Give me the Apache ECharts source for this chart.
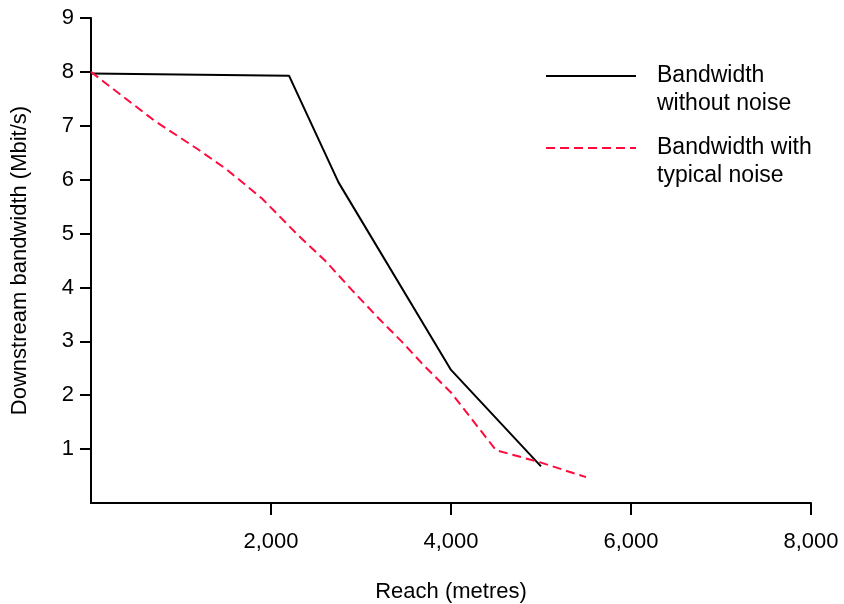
<!DOCTYPE html>
<html>
<head>
<meta charset="utf-8">
<script src="https://cdn.jsdelivr.net/npm/echarts@6/dist/echarts.min.js"></script>
<style>
  html, body { margin: 0; padding: 0; background: #fff; }
  #chart { width: 844px; height: 604px; }
</style>
</head>
<body>
<div id="chart"></div>
<script>
// data
var reachClean = [0, 2200, 2750, 4000, 5000]
var bwClean = [7.97, 7.93, 5.95, 2.47, 0.68]

var reachNoise = [0, 350, 700, 1200, 1500, 1900, 2300, 2600, 2900, 3200, 3450, 3700, 4000, 4500, 5000, 5500]
var bwNoise = [8.0, 7.55, 7.1, 6.55, 6.2, 5.65, 4.97, 4.5, 3.95, 3.42, 3.0, 2.55, 2.05, 0.98, 0.75, 0.48]

var nameClean = 'Bandwidth\nwithout noise'
var nameNoise = 'Bandwidth with\ntypical noise'

function pairs(xs, ys){
    var out = []
    for(let i=0;i<xs.length;i++){
        out.push([xs[i], ys[i]])
    }
    return out
}

var font = 'Liberation Sans, Arial, sans-serif'

// blank first line so the icon lines up with the first text line
function legendFmt(name){
    return ' \n' + name
}

var legendText = {
    fontFamily: font,
    fontSize: 23,
    color: '#000',
    lineHeight: 28,
    padding: [0, 0, 0, 16]
}

option = {
    animation: false,
    backgroundColor: '#fff',
    grid: { left: 91, right: 33, top: 18, bottom: 101, outerBoundsMode: 'none' },
    legend: [
        {
            data: [nameClean],
            orient: 'vertical',
            left: 540,
            top: 29,
            itemWidth: 90,
            itemHeight: 12,
            formatter: legendFmt,
            itemStyle: { opacity: 0 },
            textStyle: legendText
        },
        {
            data: [nameNoise],
            orient: 'vertical',
            left: 540,
            top: 101,
            itemWidth: 90,
            itemHeight: 12,
            formatter: legendFmt,
            itemStyle: { opacity: 0 },
            textStyle: legendText
        }
    ],
    xAxis: {
        type: 'value',
        min: 0,
        max: 8000,
        interval: 2000,
        name: 'Reach (metres)',
        nameLocation: 'middle',
        nameGap: 78,
        nameTextStyle: { fontFamily: font, fontSize: 22, color: '#000' },
        axisLine: { lineStyle: { color: '#000', width: 2 } },
        axisTick: { show: true, length: 12, lineStyle: { color: '#000', width: 2 } },
        axisLabel: {
            showMinLabel: false,
            margin: 28,
            fontFamily: font,
            fontSize: 22,
            color: '#000',
            formatter: function(v){ return v.toLocaleString('en-US') }
        },
        splitLine: { show: false }
    },
    yAxis: {
        type: 'value',
        min: 0,
        max: 9,
        interval: 1,
        name: 'Downstream bandwidth (Mbit/s)',
        nameLocation: 'middle',
        nameGap: 60,
        nameTextStyle: { fontFamily: font, fontSize: 22, color: '#000' },
        axisLine: { show: true, lineStyle: { color: '#000', width: 2 } },
        axisTick: { show: true, length: 11, lineStyle: { color: '#000', width: 2 } },
        axisLabel: {
            showMinLabel: false,
            margin: 17,
            fontFamily: font,
            fontSize: 22,
            color: '#000'
        },
        splitLine: { show: false }
    },
    series: [
        {
            name: nameClean,
            type: 'line',
            data: pairs(reachClean, bwClean),
            symbol: 'none',
            lineStyle: { color: '#000', width: 2 },
            itemStyle: { color: '#000' }
        },
        {
            name: nameNoise,
            type: 'line',
            data: pairs(reachNoise, bwNoise),
            symbol: 'none',
            lineStyle: { color: '#ff0a3c', width: 2, type: [9, 5] },
            itemStyle: { color: '#ff0a3c' }
        }
    ]
};

var myChart = echarts.init(document.getElementById('chart'));
myChart.setOption(option);
</script>
</body>
</html>
